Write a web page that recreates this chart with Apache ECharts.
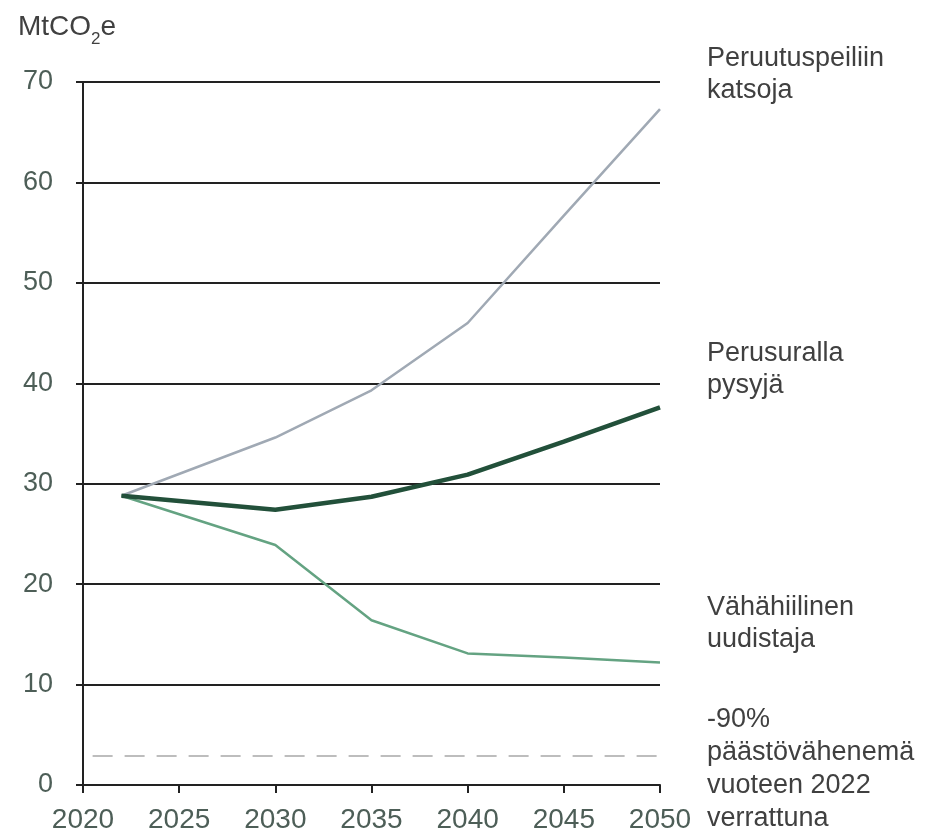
<!DOCTYPE html>
<html>
<head>
<meta charset="utf-8">
<script src="https://cdn.jsdelivr.net/npm/echarts@6/dist/echarts.min.js"></script>
<style>
  html, body { margin: 0; padding: 0; background: #fff; }
  #main { width: 926px; height: 834px; }
</style>
</head>
<body>
<div id="main"></div>
<script>
// vuodet ja skenaariot (MtCO2e)
const years = [2022, 2030, 2035, 2040, 2045, 2050];
const peruutuspeili = [28.8, 34.6, 39.3, 46.0, 56.7, 67.3];
const perusura = [28.8, 27.4, 28.7, 30.9, 34.2, 37.6];
const vahahiilinen = [28.8, 23.9, 16.4, 13.1, 12.7, 12.2];
// -90 % vuoden 2022 tasosta
const targetYears = [2020.5, 2050];
const targetValue = [2.9, 2.9];

const textColor = '#404040';
const tickColor = '#4d5e57';

function pairs(xs, ys) {
  return xs.map((x, i) => [x, ys[i]]);
}

const chart = echarts.init(document.getElementById('main'), null, { renderer: 'canvas' });

const option = {
  backgroundColor: '#fff',
  animation: false,
  grid: { left: 83, right: 266, top: 82, bottom: 49, containLabel: false },
  xAxis: {
    type: 'value',
    min: 2020,
    max: 2050,
    interval: 5,
    axisLine: { show: true, lineStyle: { color: '#222', width: 2 } },
    axisTick: { show: true, length: 8, lineStyle: { color: '#222', width: 2 } },
    splitLine: { show: false },
    axisLabel: {
      margin: 21,
      color: tickColor,
      fontSize: 28,
      fontFamily: '"Liberation Sans Narrow", "Liberation Sans", Arial, sans-serif',
      formatter: v => String(v)
    }
  },
  yAxis: {
    type: 'value',
    min: 0,
    max: 70,
    interval: 10,
    axisLine: { show: true, lineStyle: { color: '#222', width: 2 } },
    axisTick: { show: true, length: 7, lineStyle: { color: '#222', width: 2 } },
    splitLine: { show: true, lineStyle: { color: '#222', width: 2 } },
    axisLabel: {
      margin: 30,
      color: tickColor,
      fontSize: 27,
      fontFamily: '"Liberation Sans", Arial, sans-serif'
    }
  },
  series: [
    {
      name: 'tavoite',
      type: 'line',
      data: pairs(targetYears, targetValue),
      symbol: 'none',
      lineStyle: { color: '#bdbdbd', width: 2, type: [20, 12] },
      z: 1
    },
    {
      name: 'Peruutuspeiliin katsoja',
      type: 'line',
      data: pairs(years, peruutuspeili),
      symbol: 'none',
      lineStyle: { color: '#a0a9b4', width: 2.5 },
      z: 3
    },
    {
      name: 'Vähähiilinen uudistaja',
      type: 'line',
      data: pairs(years, vahahiilinen),
      symbol: 'none',
      lineStyle: { color: '#64a382', width: 2.5 },
      z: 3
    },
    {
      name: 'Perusuralla pysyjä',
      type: 'line',
      data: pairs(years, perusura),
      symbol: 'none',
      lineStyle: { color: '#22503a', width: 4.5 },
      z: 4
    }
  ],
  graphic: [
    {
      type: 'text', left: 18, top: 13,
      style: {
        text: '{a|MtCO}{s|2}{a|e}',
        rich: {
          a: { fontSize: 28, fontFamily: '"Liberation Sans", Arial, sans-serif', fill: textColor, lineHeight: 34, verticalAlign: 'bottom' },
          s: { fontSize: 17, fontFamily: '"Liberation Sans", Arial, sans-serif', fill: textColor, lineHeight: 20, verticalAlign: 'bottom', padding: [0, 0, -7, 0] }
        }
      }
    },
    {
      type: 'text', left: 707, top: 43,
      style: { text: 'Peruutuspeiliin\nkatsoja', fontSize: 27, lineHeight: 32, fill: textColor, fontFamily: '"Liberation Sans", Arial, sans-serif' }
    },
    {
      type: 'text', left: 707, top: 338,
      style: { text: 'Perusuralla\npysyjä', fontSize: 27, lineHeight: 32, fill: textColor, fontFamily: '"Liberation Sans", Arial, sans-serif' }
    },
    {
      type: 'text', left: 707, top: 592,
      style: { text: 'Vähähiilinen\nuudistaja', fontSize: 27, lineHeight: 32, fill: textColor, fontFamily: '"Liberation Sans", Arial, sans-serif' }
    },
    {
      type: 'text', left: 707, top: 703,
      style: { text: '-90%\npäästövähenemä\nvuoteen 2022\nverrattuna', fontSize: 27, lineHeight: 33, fill: textColor, fontFamily: '"Liberation Sans", Arial, sans-serif' }
    }
  ]
};

chart.setOption(option);
</script>
</body>
</html>
